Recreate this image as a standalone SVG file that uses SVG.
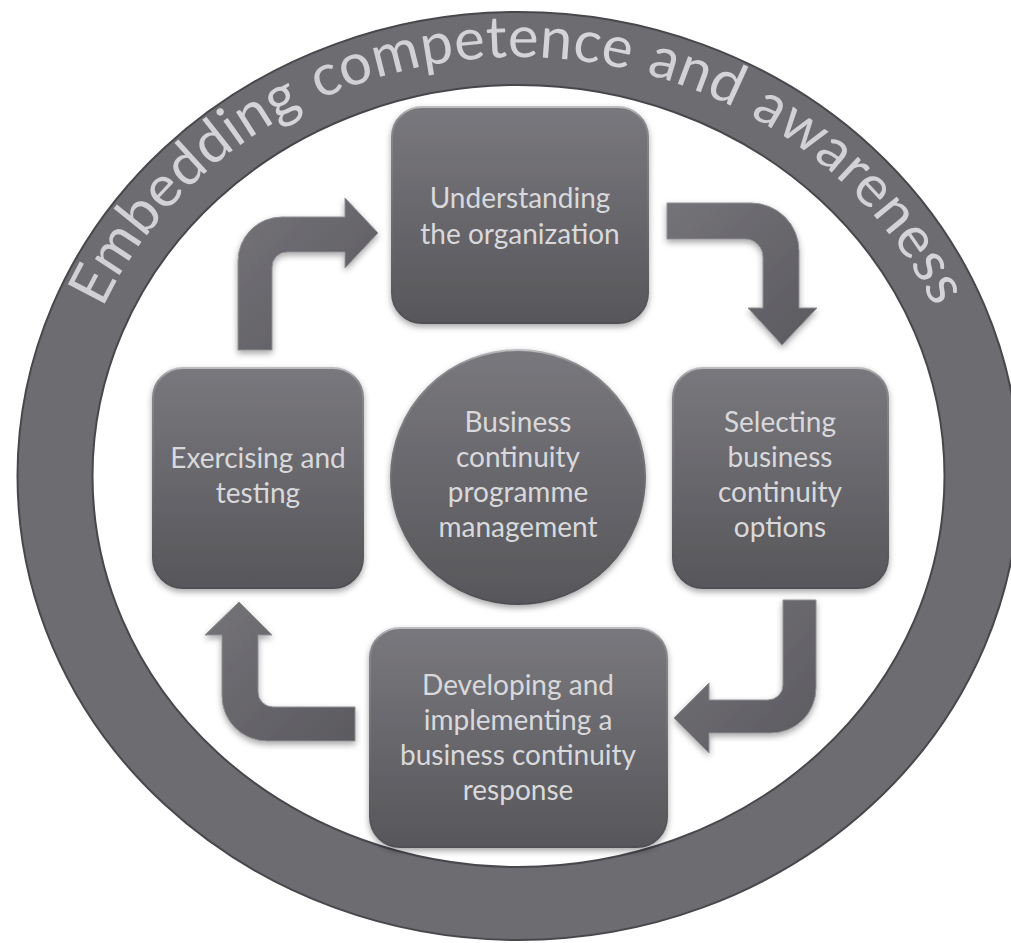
<svg xmlns="http://www.w3.org/2000/svg" xmlns:xlink="http://www.w3.org/1999/xlink" width="1011" height="943" viewBox="0 0 1011 943">
  <style>
    .lbl { font-family: Lato, "Open Sans", "Liberation Sans", sans-serif; font-size: 28px; fill: #d9d9db; text-anchor: middle; }
    .ringtxt { font-family: Lato, "Open Sans", "Liberation Sans", sans-serif; font-size: 58px; letter-spacing: 0.5px; fill: url(#txtGrad); }
    .box { fill: url(#boxGrad); stroke: url(#edgeGrad); stroke-width: 2; filter: url(#shadow); }
    .arrow { fill: url(#arrowGrad); stroke: #8f8f93; stroke-width: 1; filter: url(#shadow); }
  </style>
  <defs>
    <linearGradient id="boxGrad" x1="0" y1="0" x2="0" y2="1">
      <stop offset="0" stop-color="#79787d"/>
      <stop offset="1" stop-color="#57575b"/>
    </linearGradient>
    <linearGradient id="edgeGrad" x1="0" y1="0" x2="0" y2="1">
      <stop offset="0" stop-color="#bdbdc0"/>
      <stop offset="0.06" stop-color="#8a8a8e"/>
      <stop offset="1" stop-color="#505054"/>
    </linearGradient>
    <linearGradient id="arrowGrad" x1="0" y1="0" x2="1" y2="1">
      <stop offset="0" stop-color="#747378"/>
      <stop offset="1" stop-color="#5b5a5f"/>
    </linearGradient>
    <linearGradient id="txtGrad" x1="0" y1="0" x2="1" y2="0">
      <stop offset="0" stop-color="#d0d0d2"/>
      <stop offset="1" stop-color="#d6d6d8"/>
    </linearGradient>
    <filter id="shadow" x="-10%" y="-10%" width="120%" height="125%">
      <feDropShadow dx="0" dy="3" stdDeviation="3" flood-color="#000" flood-opacity="0.35"/>
    </filter>
    <path id="textArc" d="M64.5,476 A454,419 0 0 1 972.5,476"/>
  </defs>

  <rect width="1011" height="943" fill="#ffffff"/>

  <g id="ring">
    <path d="M17.5,476 A501,464 0 1 1 1019.5,476 A501,464 0 1 1 17.5,476 Z M92.5,476 A426,391 0 1 0 944.5,476 A426,391 0 1 0 92.5,476 Z" fill="#6d6c71" fill-rule="evenodd" stroke="#48474c" stroke-width="2"/>
    <text class="ringtxt"><textPath xlink:href="#textArc" href="#textArc" startOffset="318" text-anchor="middle">Embedding</textPath></text>
    <text class="ringtxt"><textPath xlink:href="#textArc" href="#textArc" startOffset="639" text-anchor="middle">competence</textPath></text>
    <text class="ringtxt"><textPath xlink:href="#textArc" href="#textArc" startOffset="862" text-anchor="middle">and</textPath></text>
    <text class="ringtxt"><textPath xlink:href="#textArc" href="#textArc" startOffset="1062" text-anchor="middle">awareness</textPath></text>
  </g>

  <g id="connectors">
    <path class="arrow" d="M238,350 L238,261 A44,44 0 0 1 282,217 L345,217 L345,198 L378,233 L345,268 L345,252 L287,252 A15,15 0 0 0 272,267 L272,350 Z"/>
    <path class="arrow" d="M667,203 L751,203 A48,48 0 0 1 799,251 L799,308 L817,308 L782,345 L748,308 L763,308 L763,257 A18,18 0 0 0 745,239 L667,239 Z"/>
    <path class="arrow" d="M783,600 L816,600 L816,688 A45,45 0 0 1 771,733 L709,733 L709,753 L674,718 L709,683 L709,700 L768,700 A15,15 0 0 0 783,685 Z"/>
    <path class="arrow" d="M355,707 L355,741 L267,741 A45,45 0 0 1 222,696 L222,635 L205,635 L239,602 L272,635 L258,635 L258,692 A15,15 0 0 0 273,707 Z"/>
  </g>

  <g id="node-understanding">
    <rect class="box" x="392" y="107" width="256" height="216" rx="30" ry="30"/>
    <text class="lbl" x="520" y="208">Understanding</text>
    <text class="lbl" x="520" y="244">the organization</text>
  </g>

  <g id="node-selecting">
    <rect class="box" x="673" y="368" width="215" height="220" rx="30" ry="30"/>
    <text class="lbl" x="780" y="432">Selecting</text>
    <text class="lbl" x="780" y="467">business</text>
    <text class="lbl" x="780" y="502">continuity</text>
    <text class="lbl" x="780" y="537">options</text>
  </g>

  <g id="node-developing">
    <rect class="box" x="370" y="628" width="297" height="219" rx="30" ry="30"/>
    <text class="lbl" x="518" y="695">Developing and</text>
    <text class="lbl" x="518" y="730">implementing a</text>
    <text class="lbl" x="518" y="765">business continuity</text>
    <text class="lbl" x="518" y="800">response</text>
  </g>

  <g id="node-exercising">
    <rect class="box" x="153" y="368" width="210" height="220" rx="30" ry="30"/>
    <text class="lbl" x="258" y="468">Exercising and</text>
    <text class="lbl" x="258" y="503">testing</text>
  </g>

  <g id="node-programme">
    <circle class="box" cx="518" cy="477" r="127"/>
    <text class="lbl" x="518" y="432">Business</text>
    <text class="lbl" x="518" y="467">continuity</text>
    <text class="lbl" x="518" y="502">programme</text>
    <text class="lbl" x="518" y="537">management</text>
  </g>
</svg>
